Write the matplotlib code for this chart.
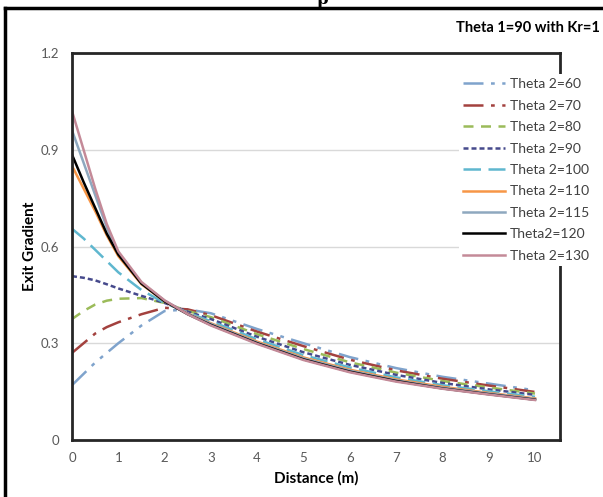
import matplotlib
matplotlib.use('Agg')
import matplotlib.pyplot as plt
from matplotlib.lines import Line2D

plt.rcParams['font.family'] = ['Lato', 'DejaVu Sans']

# distance along the exit face (m)
distance = [0, 0.25, 0.5, 0.75, 1, 1.5, 2, 2.5, 3, 4, 5, 6, 7, 8, 9, 10]

# exit gradient for each Theta 2 (Theta 1 = 90, Kr = 1)
theta60 = [0.17, 0.205, 0.24, 0.27, 0.30, 0.355, 0.40, 0.405, 0.393, 0.344, 0.300, 0.257, 0.223, 0.196, 0.175, 0.154]
theta70 = [0.27, 0.30, 0.33, 0.35, 0.365, 0.39, 0.41, 0.405, 0.387, 0.336, 0.291, 0.249, 0.216, 0.190, 0.169, 0.149]
theta80 = [0.375, 0.40, 0.42, 0.432, 0.438, 0.44, 0.425, 0.40, 0.381, 0.328, 0.282, 0.241, 0.209, 0.183, 0.163, 0.144]
theta90 = [0.508, 0.503, 0.495, 0.483, 0.47, 0.447, 0.425, 0.398, 0.375, 0.320, 0.272, 0.233, 0.202, 0.177, 0.157, 0.140]
theta100 = [0.655, 0.625, 0.59, 0.555, 0.52, 0.465, 0.425, 0.395, 0.368, 0.312, 0.263, 0.225, 0.194, 0.170, 0.151, 0.134]
theta110 = [0.85, 0.78, 0.71, 0.635, 0.57, 0.483, 0.43, 0.392, 0.362, 0.305, 0.256, 0.218, 0.188, 0.165, 0.146, 0.129]
theta115 = [0.96, 0.86, 0.76, 0.66, 0.58, 0.487, 0.432, 0.392, 0.360, 0.302, 0.253, 0.215, 0.185, 0.162, 0.144, 0.127]
theta120 = [0.885, 0.80, 0.72, 0.64, 0.575, 0.485, 0.43, 0.39, 0.357, 0.300, 0.250, 0.212, 0.183, 0.160, 0.142, 0.125]
theta130 = [1.02, 0.90, 0.78, 0.67, 0.585, 0.49, 0.433, 0.39, 0.355, 0.298, 0.248, 0.210, 0.181, 0.159, 0.141, 0.124]

labels = ['Theta 2=60', 'Theta 2=70', 'Theta 2=80', 'Theta 2=90', 'Theta 2=100',
          'Theta 2=110', 'Theta 2=115', 'Theta2=120', 'Theta 2=130']

fig = plt.figure(figsize=(6.03, 4.97), dpi=100)
ax = fig.add_axes([72/603, 1 - 440/497, (560 - 72)/603, (440 - 53)/497])

lw = 1.8
ax.plot(distance, theta60, color='#7fa3cc', lw=lw, ls=(0, (8, 3, 1.5, 3, 1.5, 3)), label=labels[0])
ax.plot(distance, theta70, color='#a3413e', lw=lw, ls=(0, (8, 3, 1.5, 3)), label=labels[1])
ax.plot(distance, theta80, color='#9bbb59', lw=lw, ls=(0, (4, 3)), label=labels[2])
ax.plot(distance, theta90, color='#464a8c', lw=lw, ls=(0, (2, 1.2)), label=labels[3])
ax.plot(distance, theta100, color='#5fb7cf', lw=lw, ls=(0, (7, 3)), label=labels[4])
ax.plot(distance, theta110, color='#f79646', lw=lw, label=labels[5])
ax.plot(distance, theta115, color='#8ea8bf', lw=lw, label=labels[6])
ax.plot(distance, theta120, color='black', lw=lw, label=labels[7])
ax.plot(distance, theta130, color='#c48a98', lw=lw, label=labels[8])

ax.set_xlim(0, 10.54)
ax.set_ylim(0, 1.2)
ax.set_xticks(range(0, 11))
ax.set_yticks([0, 0.3, 0.6, 0.9, 1.2])
ax.set_yticklabels(['0', '0.3', '0.6', '0.9', '1.2'])
ax.tick_params(length=0, labelsize=9.5, labelcolor='#595959', pad=9)
ax.yaxis.grid(True, color='#d9d9d9', lw=1)
ax.set_axisbelow(True)
for s in ax.spines.values():
    s.set_linewidth(2)
    s.set_color('#262626')

ax.set_xlabel('Distance (m)', fontsize=11, fontweight='bold', labelpad=5)
ax.set_ylabel('Exit Gradient', fontsize=11, fontweight='bold', labelpad=3)

leg = ax.legend(loc='center left', bbox_to_anchor=(452/603, 1 - 170/497),
                bbox_transform=fig.transFigure, fontsize=10, frameon=True,
                framealpha=1, edgecolor='none', fancybox=False,
                handlelength=3.0, handletextpad=0.35, labelspacing=0.68,
                borderpad=0.3)
for t in leg.get_texts():
    t.set_color('#404040')

fig.text(600/603, 1 - 28/497, 'Theta 1=90 with Kr=1', ha='right', va='center',
         fontsize=10.5, fontweight='bold')

# cut-off caption at the very top and the outer frame
fig.text(0.535, 1.0, 'p', ha='center', va='center', fontsize=12,
         fontweight='bold', family='DejaVu Serif')
fig.add_artist(Line2D([5/603, 5/603], [0, 1 - 8/497], transform=fig.transFigure,
                      color='black', lw=2.5))
fig.add_artist(Line2D([5/603, 1], [1 - 8/497, 1 - 8/497], transform=fig.transFigure,
                      color='black', lw=2.5))

fig.savefig('out.png', dpi=100)
